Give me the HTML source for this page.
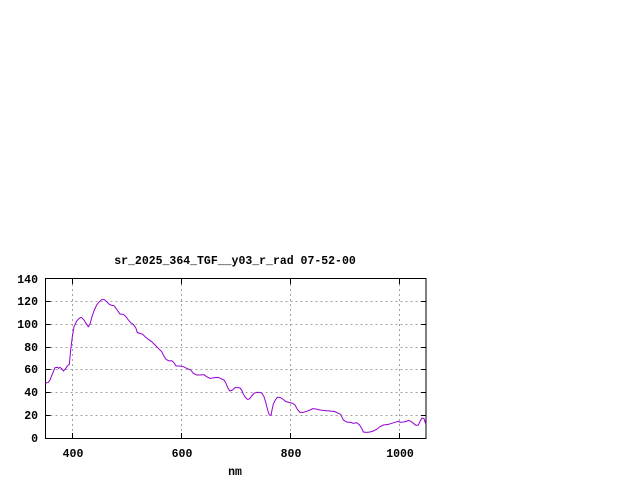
<!DOCTYPE html>
<html><head><style>
html,body{margin:0;padding:0;background:#fff;}
svg{display:block;}
text{font-family:"Liberation Mono",monospace;font-size:11.5px;font-weight:bold;fill:#000;}
</style></head><body>
<svg width="640" height="480" viewBox="0 0 640 480" xmlns="http://www.w3.org/2000/svg">
<rect width="640" height="480" fill="#fff"/>
<text x="235" y="264" text-anchor="middle">sr_2025_364_TGF__y03_r_rad 07-52-00</text>
<g stroke="#a0a0a0" stroke-width="1" stroke-dasharray="2,3" fill="none">
<line x1="45.5" y1="415.5" x2="426" y2="415.5"/>
<line x1="45.5" y1="392.5" x2="426" y2="392.5"/>
<line x1="45.5" y1="369.5" x2="426" y2="369.5"/>
<line x1="45.5" y1="347.5" x2="426" y2="347.5"/>
<line x1="45.5" y1="324.5" x2="426" y2="324.5"/>
<line x1="45.5" y1="301.5" x2="426" y2="301.5"/>
<line x1="72.5" y1="279" x2="72.5" y2="438"/>
<line x1="181.5" y1="279" x2="181.5" y2="438"/>
<line x1="290.5" y1="279" x2="290.5" y2="438"/>
<line x1="399.5" y1="279" x2="399.5" y2="438"/>
</g>
<g stroke="#000" stroke-width="1">
<rect x="45.5" y="278.5" width="380.5" height="160" fill="none"/>
<path d="M45.5 415.5h5M45.5 392.5h5M45.5 369.5h5M45.5 347.5h5M45.5 324.5h5M45.5 301.5h5M426 415.5h-5M426 392.5h-5M426 369.5h-5M426 347.5h-5M426 324.5h-5M426 301.5h-5M72.5 438v-5M181.5 438v-5M290.5 438v-5M399.5 438v-5M72.5 279v5M181.5 279v5M290.5 279v5M399.5 279v5"/>
</g>
<g text-anchor="end">
<text x="38" y="442">0</text>
<text x="38" y="419">20</text>
<text x="38" y="396">40</text>
<text x="38" y="373">60</text>
<text x="38" y="351">80</text>
<text x="38" y="328">100</text>
<text x="38" y="305">120</text>
<text x="38" y="283">140</text>
</g>
<g text-anchor="middle">
<text x="73" y="457">400</text>
<text x="182" y="457">600</text>
<text x="291" y="457">800</text>
<text x="400" y="457">1000</text>
<text x="235" y="475">nm</text>
</g>
<polyline transform="translate(0,250) scale(0.33333)" fill="none" stroke="#9400d3" stroke-width="1" vector-effect="non-scaling-stroke" points="136,400 145,397 150,390 158,370 165,353 172,352 176,355 180,352 186,357 190,363 196,357 202,348 208,343 212,300 217,260 222,230 230,213 238,205 244,202 252,210 258,220 265,230 270,222 276,200 283,180 290,165 298,155 305,149 313,149 320,155 328,163 335,166 342,167 350,178 360,192 370,193 378,200 385,210 392,218 400,223 408,235 412,248 420,250 428,253 435,260 445,268 455,275 465,285 475,295 485,305 490,315 497,327 505,332 510,333 515,332 522,338 528,348 540,348 550,350 560,355 572,360 580,370 590,375 600,375 612,374 620,380 630,385 645,383 655,382 665,387 672,390 678,400 684,415 690,423 698,420 705,413 715,413 720,414 725,420 730,432 736,442 742,448 748,447 755,438 762,430 770,427 780,427 786,430 792,440 798,460 803,480 808,495 813,496 816,480 820,462 826,450 832,442 840,442 848,447 858,455 870,458 878,460 885,465 892,478 900,487 910,487 920,484 930,480 938,476 948,477 960,480 975,482 990,483 1005,485 1015,490 1022,493 1030,510 1040,516 1052,517 1060,520 1070,518 1078,524 1085,535 1090,546 1100,547 1110,546 1120,543 1130,538 1140,530 1150,525 1165,523 1175,520 1185,517 1195,514 1200,517 1210,516 1218,515 1225,511 1232,514 1240,520 1248,526 1255,525 1260,514 1266,504 1272,506 1278,524"/>
</svg>
</body></html>
